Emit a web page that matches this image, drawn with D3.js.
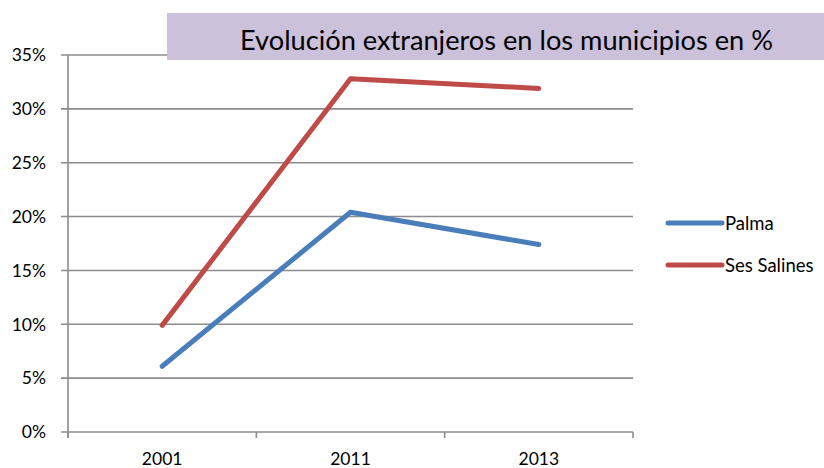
<!DOCTYPE html>
<html>
<head>
<meta charset="utf-8">
<script src="https://cdn.jsdelivr.net/npm/d3@7"></script>
<style>
  body { margin: 0; background: #fff; }
  text { font-family: Lato, "Open Sans", sans-serif; fill: #000; }
</style>
</head>
<body>
<div id="chart"></div>
<script>
// data
var years = ["2001", "2011", "2013"];
var palma = [6.1, 20.4, 17.4];
var sesSalines = [9.9, 32.8, 31.9];
var yTicks = [0, 5, 10, 15, 20, 25, 30, 35];
var seriesNames = ["Palma", "Ses Salines"];
var seriesColors = ["#4a7ebb", "#be4b48"];
var titleText = "Evolución extranjeros en los municipios en %";

var W = 824, H = 468;
var margin = {top: 55, right: 191, bottom: 36, left: 68};

var svg = d3.select("#chart").append("svg")
  .attr("width", W).attr("height", H);

var x = d3.scaleBand().domain(years)
  .range([margin.left, W - margin.right]);
var y = d3.scaleLinear().domain([0, 35])
  .range([H - margin.bottom, margin.top]);

//////////////// grid + y axis ////////////////
svg.append("g").selectAll("line.grid")
  .data(yTicks).enter().append("line")
  .attr("class", "grid")
  .attr("x1", margin.left - 7).attr("x2", W - margin.right)
  .attr("y1", function(d){ return y(d); })
  .attr("y2", function(d){ return y(d); })
  .attr("stroke", "#8c8c8c").attr("stroke-width", 1.6);

svg.append("line")
  .attr("x1", margin.left).attr("x2", margin.left)
  .attr("y1", y(35)).attr("y2", y(0) + 6)
  .attr("stroke", "#8c8c8c").attr("stroke-width", 1.6);

svg.append("g").selectAll("text.ylab")
  .data(yTicks).enter().append("text")
  .attr("class", "ylab")
  .attr("x", 46)
  .attr("y", function(d){ return y(d); })
  .attr("dy", "0.36em")
  .attr("text-anchor", "end")
  .attr("font-size", "17.5px")
  .text(function(d){ return d + "%"; });

//////////////// x axis ticks + labels ////////////////
var xEdges = years.map(function(d){ return x(d); }).concat([x.range()[1]]);
svg.append("g").selectAll("line.xtick")
  .data(xEdges).enter().append("line")
  .attr("x1", function(d){ return d; }).attr("x2", function(d){ return d; })
  .attr("y1", y(0)).attr("y2", y(0) + 6)
  .attr("stroke", "#8c8c8c").attr("stroke-width", 1.6);

svg.append("g").selectAll("text.xlab")
  .data(years).enter().append("text")
  .attr("x", function(d){ return x(d) + x.bandwidth()/2; })
  .attr("y", 465)
  .attr("text-anchor", "middle")
  .attr("font-size", "17.5px")
  .text(function(d){ return d; });

//////////////// lines ////////////////
var line = d3.line()
  .x(function(d, i){ return x(years[i]) + x.bandwidth()/2; })
  .y(function(d){ return y(d); });

[palma, sesSalines].forEach(function(s, i){
  svg.append("path")
    .datum(s)
    .attr("d", line)
    .attr("fill", "none")
    .attr("stroke", seriesColors[i])
    .attr("stroke-width", 5)
    .attr("stroke-linecap", "round")
    .attr("stroke-linejoin", "round");
});

//////////////// title box ////////////////
svg.append("rect")
  .attr("x", 167).attr("y", 13)
  .attr("width", W - 167).attr("height", 47)
  .attr("fill", "#ccc1da");

svg.append("text")
  .attr("x", 240).attr("y", 50)
  .attr("font-size", "26px")
  .attr("textLength", 533)
  .attr("lengthAdjust", "spacingAndGlyphs")
  .text(titleText);

//////////////// legend ////////////////
var legend = svg.append("g").selectAll("g.leg")
  .data(seriesNames).enter().append("g")
  .attr("transform", function(d, i){ return "translate(0," + (223 + i * 42) + ")"; });

legend.append("line")
  .attr("x1", 668).attr("x2", 722)
  .attr("stroke", function(d, i){ return seriesColors[i]; })
  .attr("stroke-width", 5)
  .attr("stroke-linecap", "round");

legend.append("text")
  .attr("x", 725).attr("dy", "0.36em")
  .attr("font-size", "18.5px")
  .text(function(d){ return d; });
</script>
</body>
</html>
